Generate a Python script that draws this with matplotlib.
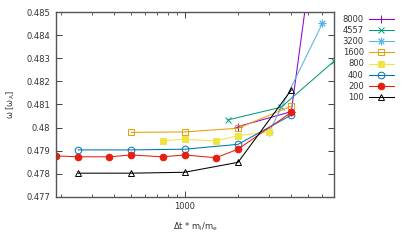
import matplotlib
matplotlib.use("Agg")
import matplotlib.pyplot as plt
from matplotlib.ticker import LogLocator, NullFormatter, FixedLocator, FixedFormatter

# series: mass ratio -> (dt * mi/me, omega)
x8000 = [2000, 4000, 6000]
y8000 = [0.48004, 0.48069, 0.4907]
x4557 = [1750, 3500, 7000]
y4557 = [0.48033, 0.48088, 0.48289]
x3200 = [3000, 6000]
y3200 = [0.4798, 0.48452]
x1600 = [500, 1000, 2000, 4000]
y1600 = [0.47979, 0.47981, 0.47997, 0.48093]
x800 = [750, 1000, 1500, 2000, 3000]
y800 = [0.47943, 0.47949, 0.47942, 0.47965, 0.4798]
x400 = [250, 500, 1000, 2000, 4000]
y400 = [0.47903, 0.47903, 0.47906, 0.47927, 0.48054]
x200 = [187.5, 250, 375, 500, 750, 1000, 1500, 2000, 4000]
y200 = [0.47877, 0.47873, 0.47873, 0.47881, 0.47873, 0.47881, 0.47869, 0.47906, 0.48066]
x100 = [250, 500, 1000, 2000, 4000]
y100 = [0.47802, 0.47802, 0.47806, 0.47849, 0.48163]

labels = ['8000', '4557', '3200', '1600', '800', '400', '200', '100']
colors = ['#9400d3', '#009e73', '#56b4e9', '#e69f00', '#f0e442', '#0072b2', '#e51e10', '#000000']

plt.rcParams['font.family'] = 'DejaVu Sans'
plt.rcParams['font.size'] = 6

fig = plt.figure(figsize=(4.07, 2.44), dpi=100)
ax = fig.add_axes([0.1376, 0.1939, 0.6838, 0.7557])

series = [(x8000, y8000), (x4557, y4557), (x3200, y3200), (x1600, y1600),
          (x800, y800), (x400, y400), (x200, y200), (x100, y100)]
styles = [
    dict(marker='+', ms=5.5, mew=0.7),
    dict(marker='x', ms=4.5, mew=0.7),
    dict(marker=(8, 2, 0), ms=5.5, mew=0.7),
    dict(marker='s', ms=4.8, mfc='none', mew=0.7),
    dict(marker='s', ms=4.8, mew=0.7),
    dict(marker='o', ms=4.8, mfc='none', mew=0.7),
    dict(marker='o', ms=4.8, mew=0.7),
    dict(marker='^', ms=4.8, mfc='none', mew=0.7),
]
for (xs, ys), lab, c, st in zip(series, labels, colors, styles):
    ax.plot(xs, ys, color=c, lw=0.75, label=lab, **st)

ax.set_xscale('log')
ax.set_xlim(187.5, 7000)
ax.set_ylim(0.477, 0.485)
ax.xaxis.set_major_locator(FixedLocator([1000]))
ax.xaxis.set_major_formatter(FixedFormatter(['1000']))
ax.xaxis.set_minor_locator(LogLocator(base=10, subs=range(2, 10)))
ax.xaxis.set_minor_formatter(NullFormatter())
yt = [0.477, 0.478, 0.479, 0.48, 0.481, 0.482, 0.483, 0.484, 0.485]
ax.set_yticks(yt)
ax.set_yticklabels(['0.477', '0.478', '0.479', '0.48', '0.481', '0.482', '0.483', '0.484', '0.485'])
ax.tick_params(which='both', direction='in', top=True, right=True, color='#444444',
               labelcolor='#333333', labelsize=6)
ax.tick_params(which='major', length=4, width=0.7, pad=4)
ax.tick_params(which='minor', length=2.5, width=0.6)
for s in ax.spines.values():
    s.set_color('#555555')
    s.set_linewidth(1.0)

ax.set_xlabel('Δt * m$_\\mathregular{i}$/m$_\\mathregular{e}$', fontsize=6, color='#333333', labelpad=7)
ax.set_ylabel('ω [ω$_\\mathregular{A}$]', fontsize=6, color='#333333')
ax.yaxis.set_label_coords(-0.14, 0.5)

fig.legend(loc='upper right', bbox_to_anchor=(398 / 407, 1 - 11 / 244), frameon=False,
           markerfirst=False, handlelength=3.0, handletextpad=0.6, labelspacing=0.25,
           borderpad=0, fontsize=6, labelcolor='#333333')

fig.savefig('out.png', dpi=100)
